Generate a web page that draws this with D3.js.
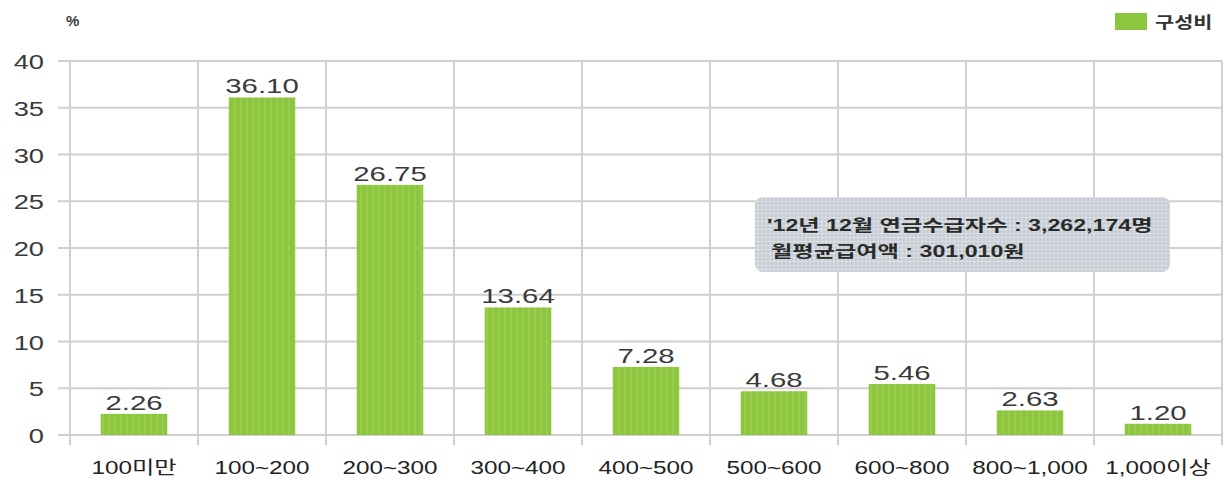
<!DOCTYPE html>
<html>
<head>
<meta charset="utf-8">
<script src="https://cdn.jsdelivr.net/npm/d3@7"></script>
<style>
  html, body { margin: 0; padding: 0; background: #fff; }
  svg { display: block; font-family: "Liberation Sans", Arial, "Noto Sans CJK KR", sans-serif; }
</style>
</head>
<body>
<svg id="chart" width="1231" height="480"></svg>
<script>
// 월 연금액 구간별 수급자 구성비 (%)
const categories = ["100미만", "100~200", "200~300", "300~400", "400~500", "500~600", "600~800", "800~1,000", "1,000이상"];
const shares = [2.26, 36.10, 26.75, 13.64, 7.28, 4.68, 5.46, 2.63, 1.20];
const yTicks = [0, 5, 10, 15, 20, 25, 30, 35, 40];
const seriesName = "구성비";
const unitLabel = "%";
const noteLines = ["'12년 12월 연금수급자수 : 3,262,174명", "월평균급여액 : 301,010원"];

const svg = d3.select("#chart");
const margin = { left: 70, right: 9, top: 61, bottom: 45 };
const W = 1231, H = 480;
const plotL = margin.left, plotR = W - margin.right;
const plotT = margin.top, plotB = H - margin.bottom;

const x = d3.scaleBand().domain(categories).range([plotL, plotR]).paddingInner(0).paddingOuter(0);
const y = d3.scaleLinear().domain([0, 40]).range([plotB, plotT]);

const green = "#8cc63f";
const gridColor = "#cfcfcf";
const textColor = "#3a3a3a";

// horizontally widened text placed at (px, py)
function wideText(sel, sx) {
  return sel.attr("x", 0).attr("y", 0)
    .attr("transform", d => `translate(${d.px},${d.py}) scale(${sx},1)`);
}

// striped fills
const defs = svg.append("defs");
const pat = defs.append("pattern").attr("id", "barStripe").attr("patternUnits", "userSpaceOnUse")
  .attr("width", 6).attr("height", 6);
pat.append("rect").attr("width", 6).attr("height", 6).attr("fill", green);
pat.append("rect").attr("x", 0).attr("width", 2).attr("height", 6).attr("fill", "#97cc4c");

const notePat = defs.append("pattern").attr("id", "noteStripe").attr("patternUnits", "userSpaceOnUse")
  .attr("width", 4).attr("height", 4);
notePat.append("rect").attr("width", 4).attr("height", 4).attr("fill", "#d3d8de");
notePat.append("rect").attr("width", 2).attr("height", 4).attr("fill", "#c4cad2");
notePat.append("rect").attr("width", 4).attr("height", 1).attr("fill", "#dde1e6");

// horizontal gridlines with left tick stubs
svg.append("g").selectAll("line").data(yTicks).join("line")
  .attr("x1", plotL - 12).attr("x2", plotR)
  .attr("y1", d => y(d)).attr("y2", d => y(d))
  .attr("stroke", gridColor).attr("stroke-width", 2);

// y tick labels
svg.append("g").selectAll("text").data(yTicks.map(v => ({ v, px: 44, py: y(v) + 8 }))).join("text")
  .call(wideText, 1.3)
  .attr("text-anchor", "end").attr("font-size", 21).attr("fill", textColor)
  .text(d => d.v);

// vertical category separators, extending below the baseline
const bounds = categories.map(c => x(c)).concat([plotR]);
svg.append("g").selectAll("line").data(bounds).join("line")
  .attr("x1", d => d).attr("x2", d => d)
  .attr("y1", plotT).attr("y2", plotB + 10)
  .attr("stroke", gridColor).attr("stroke-width", 2);

// bars
const barW = x.bandwidth() * 0.52;
svg.append("g").selectAll("rect").data(shares).join("rect")
  .attr("x", (d, i) => x(categories[i]) + (x.bandwidth() - barW) / 2)
  .attr("y", d => y(d))
  .attr("width", barW)
  .attr("height", d => y(0) - y(d))
  .attr("fill", "url(#barStripe)");

// value labels
svg.append("g").selectAll("text")
  .data(shares.map((v, i) => ({ v, px: x(categories[i]) + x.bandwidth() / 2, py: y(v) - 4 })))
  .join("text")
  .call(wideText, 1.4)
  .attr("text-anchor", "middle").attr("font-size", 21).attr("fill", textColor)
  .text(d => d.v.toFixed(2));

// category labels
svg.append("g").selectAll("text")
  .data(categories.map(c => ({ c, px: x(c) + x.bandwidth() / 2, py: plotB + 39 })))
  .join("text")
  .call(wideText, 1.35)
  .attr("text-anchor", "middle").attr("font-size", 18).attr("fill", "#222")
  .text(d => d.c);

// unit label
svg.append("text").attr("x", 66).attr("y", 26).attr("font-size", 15).attr("font-weight", "bold")
  .attr("fill", textColor).text(unitLabel);

// legend
const lg = svg.append("g").attr("transform", "translate(1115,13)");
lg.append("rect").attr("width", 32).attr("height", 17).attr("fill", green);
lg.append("text").attr("transform", "translate(40,15) scale(1.3,1)").attr("font-size", 16).attr("font-weight", "bold")
  .attr("fill", "#333").text(seriesName);

// annotation box
const nb = svg.append("g").attr("transform", "translate(755,197)");
nb.append("rect").attr("width", 415).attr("height", 75).attr("rx", 8)
  .attr("fill", "url(#noteStripe)");
nb.selectAll("text").data(noteLines.map((t, i) => ({ t, px: i === 0 ? 12 : 16, py: 34 + i * 26 })))
  .join("text")
  .call(wideText, 1.45)
  .attr("font-size", 16).attr("font-weight", "bold").attr("fill", "#2a2a2a")
  .text(d => d.t);
</script>
</body>
</html>
